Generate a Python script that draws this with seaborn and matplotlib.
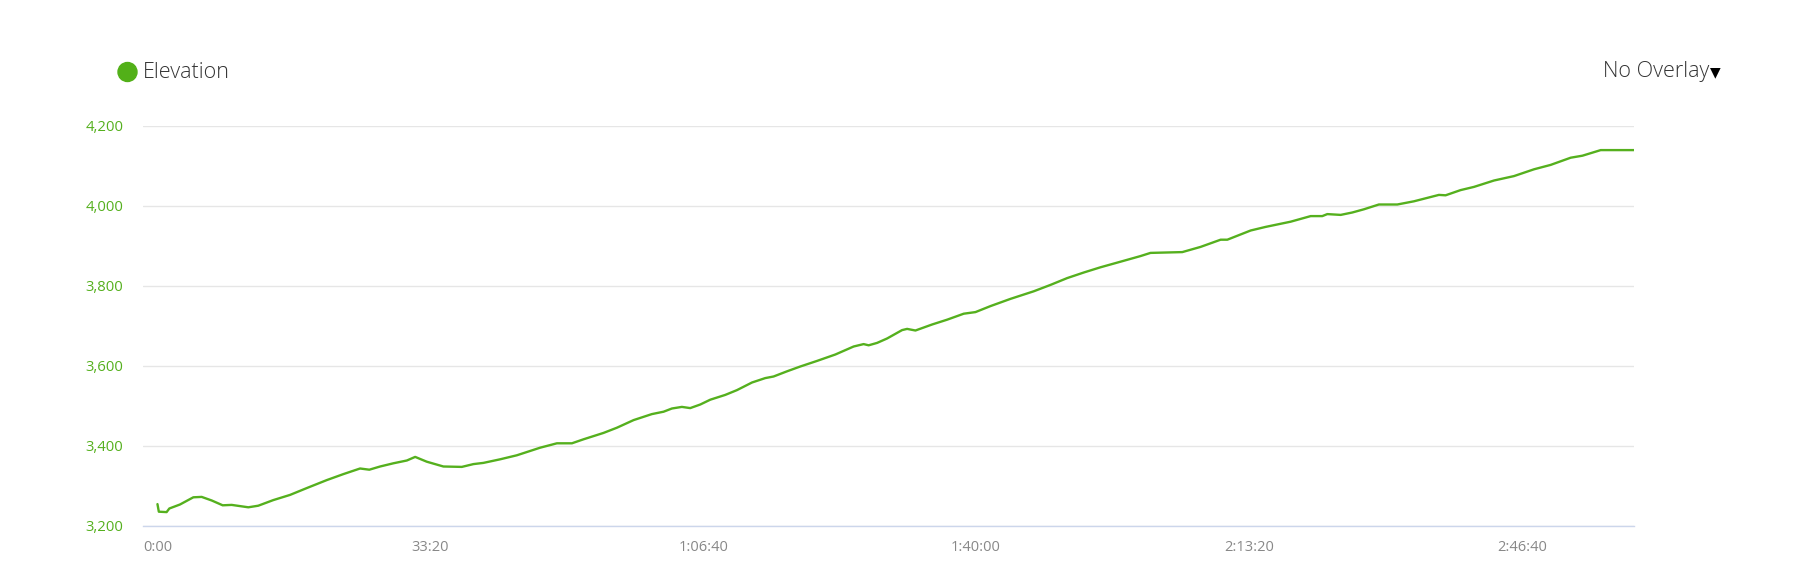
import matplotlib
matplotlib.use("Agg")
import matplotlib.pyplot as plt
from matplotlib.patches import Ellipse
from matplotlib.ticker import FuncFormatter, FixedLocator
import seaborn as sns
import pandas as pd

# elevation profile, time in seconds, elevation in metres
time_s = [0, 10, 67, 87, 165, 263, 324, 398, 478, 544, 666, 739, 849, 972,
          1094, 1241, 1363, 1485, 1553, 1632, 1729, 1828, 1889, 1974, 2096,
          2231, 2316, 2389, 2512, 2634, 2805, 2928, 3038, 3123, 3270, 3368,
          3490, 3624, 3710, 3771, 3844, 3905, 3979, 4052, 4162, 4248, 4358,
          4455, 4516, 4615, 4712, 4835, 4969, 5103, 5176, 5213, 5275, 5348,
          5458, 5495, 5556, 5678, 5788, 5910, 5996, 6106, 6252, 6423, 6546,
          6668, 6790, 6912, 7059, 7205, 7279, 7512, 7646, 7793, 7842, 8013,
          8123, 8306, 8453, 8538, 8575, 8673, 8758, 8843, 8953, 9088, 9210,
          9393, 9442, 9552, 9650, 9797, 9943, 10090, 10212, 10359, 10445,
          10579, 10823]
elevation = [3254, 3235, 3234, 3243, 3253, 3271, 3272, 3263, 3251, 3252,
             3246, 3250, 3264, 3277, 3294, 3314, 3329, 3343, 3340, 3348,
             3356, 3363, 3372, 3360, 3348, 3347, 3354, 3357, 3366, 3376,
             3395, 3406, 3406, 3416, 3432, 3445, 3464, 3479, 3485, 3493,
             3497, 3494, 3503, 3515, 3527, 3539, 3558, 3569, 3573, 3586,
             3598, 3612, 3628, 3648, 3654, 3651, 3657, 3668, 3689, 3692,
             3688, 3703, 3715, 3730, 3734, 3749, 3767, 3786, 3802, 3819,
             3833, 3846, 3860, 3874, 3882, 3884, 3897, 3915, 3915, 3938,
             3947, 3960, 3974, 3974, 3979, 3977, 3983, 3991, 4003, 4003,
             4011, 4027, 4026, 4039, 4047, 4063, 4074, 4091, 4102, 4120,
             4125, 4139, 4139]

x_ticks = [0, 2000, 4000, 6000, 8000, 10000]
y_ticks = [3200, 3400, 3600, 3800, 4000, 4200]

GREEN = "#55b01e"

df = pd.DataFrame({"time": time_s, "elevation": elevation})

sns.set_theme(style="white")
plt.rcParams["font.family"] = ["Open Sans", "DejaVu Sans"]

W, H = 1820, 586
fig = plt.figure(figsize=(W / 100, H / 100), dpi=100)
ax = fig.add_axes([143 / W, 1 - 525.7 / H, (1634 - 143) / W, 400 / H])

sns.lineplot(data=df, x="time", y="elevation", ax=ax, color=GREEN,
             linewidth=1.7, zorder=3)

ax.set_xlim(-106, 10823)
ax.set_ylim(3200, 4200)
ax.yaxis.set_major_locator(FixedLocator(y_ticks))
ax.xaxis.set_major_locator(FixedLocator(x_ticks))


def fmt_time(v, pos):
    v = int(round(v))
    h, rem = divmod(v, 3600)
    m, s = divmod(rem, 60)
    if h == 0:
        return f"{m}:{s:02d}"
    return f"{h}:{m:02d}:{s:02d}"


ax.xaxis.set_major_formatter(FuncFormatter(fmt_time))
ax.yaxis.set_major_formatter(FuncFormatter(lambda v, p: f"{int(v):,}"))

ax.grid(axis="y", color="#e6e6e6", linewidth=1.0)
ax.grid(axis="x", visible=False)
for side in ["top", "left", "right"]:
    ax.spines[side].set_visible(False)
ax.spines["bottom"].set_color("#ccd6eb")
ax.spines["bottom"].set_linewidth(1.0)

ax.tick_params(axis="y", length=0, pad=14, labelsize=10.7, labelcolor=GREEN)
ax.tick_params(axis="x", length=0, pad=10, labelsize=10.5, labelcolor="#888888")
ax.set_xlabel("")
ax.set_ylabel("")

# legend header and overlay selector
fig.add_artist(Ellipse((127.5 / W, 1 - 72 / H), 19 / W, 19 / H,
                       transform=fig.transFigure, color="#52b018"))
fig.text(143 / W, 1 - 72 / H, "Elevation", color="#333333", fontsize=15.5,
         fontweight="light", ha="left", va="center")
fig.text(1709 / W, 1 - 71 / H, "No Overlay", color="#333333", fontsize=15.5,
         fontweight="light", ha="right", va="center")
fig.text(1710 / W, 1 - 72 / H, "\u25bc", color="#000000", fontsize=10,
         ha="left", va="center", family=["DejaVu Sans"])

fig.savefig("out.png", dpi=100, facecolor="white")
